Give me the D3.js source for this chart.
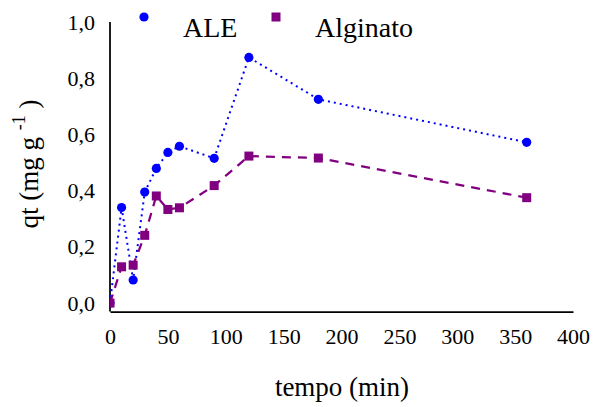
<!DOCTYPE html>
<html>
<head>
<meta charset="utf-8">
<script src="https://cdn.jsdelivr.net/npm/d3@7/dist/d3.min.js"></script>
<style>
  html, body { margin: 0; padding: 0; background: #fff; }
  svg { display: block; font-family: "Liberation Serif", "Times New Roman", serif; }
</style>
</head>
<body>
<svg id="chart" width="594" height="407"></svg>
<script>
// ---- data ----
const times = [0, 10, 20, 30, 40, 50, 60, 90, 120, 180, 360];
const aleValues = [0, 0.340, 0.082, 0.395, 0.479, 0.536, 0.558, 0.515, 0.874, 0.725, 0.572];
const alginatoValues = [0, 0.129, 0.135, 0.241, 0.381, 0.333, 0.339, 0.418, 0.523, 0.516, 0.375];
const xTicks = [0, 50, 100, 150, 200, 250, 300, 350, 400];
const yTicks = [0, 0.2, 0.4, 0.6, 0.8, 1.0];
const seriesNames = ["ALE", "Alginato"];
const xTitle = "tempo (min)";

const svg = d3.select("#chart");
const pLeft = 110, pRight = 573, pTop = 22, pBottom = 311.5;

const x = d3.scaleLinear().domain([0, 400]).range([pLeft, pRight]);
const y = d3.scaleLinear().domain([-0.03, 1]).range([pBottom, pTop]);

// clip to plot area
svg.append("defs").append("clipPath").attr("id", "plotclip")
  .append("rect").attr("x", pLeft).attr("y", 0).attr("width", 594 - pLeft).attr("height", pBottom + 10);

// axes
const fmt = d => d3.format(".1f")(d).replace(".", ",");
const yAxis = svg.append("g").attr("transform", `translate(${pLeft},0)`)
  .call(d3.axisLeft(y).tickValues(yTicks).tickFormat(fmt).tickSize(0).tickPadding(15));
const xAxis = svg.append("g").attr("transform", `translate(0,${pBottom})`)
  .call(d3.axisBottom(x).tickValues(xTicks).tickFormat(d3.format("d")).tickSize(0).tickPadding(17));
[yAxis, xAxis].forEach(g => {
  g.select(".domain").attr("stroke", "#000").attr("stroke-width", 1.75);
  g.selectAll("text").attr("font-family", "Liberation Serif").attr("font-size", 22).attr("fill", "#000");
});
yAxis.select(".domain").attr("d", `M0,${pBottom}V${pTop}`);

// series
const ale = times.map((t, i) => ({ t, v: aleValues[i] }));
const alg = times.map((t, i) => ({ t, v: alginatoValues[i] }));
const line = d3.line().x(d => x(d.t)).y(d => y(d.v));

const plot = svg.append("g").attr("clip-path", "url(#plotclip)");

plot.append("path").datum(ale).attr("d", line)
  .attr("fill", "none").attr("stroke", "#0000ff").attr("stroke-width", 2)
  .attr("stroke-dasharray", "2 4");
plot.selectAll("circle.ale").data(ale).join("circle").attr("class", "ale")
  .attr("cx", d => x(d.t)).attr("cy", d => y(d.v)).attr("r", 4.6).attr("fill", "#0000ff");

plot.append("path").datum(alg).attr("d", line)
  .attr("fill", "none").attr("stroke", "#800080").attr("stroke-width", 2.25)
  .attr("stroke-dasharray", "9 7");
const sq = 9;
plot.selectAll("rect.alg").data(alg).join("rect").attr("class", "alg")
  .attr("x", d => x(d.t) - sq / 2).attr("y", d => y(d.v) - sq / 2)
  .attr("width", sq).attr("height", sq).attr("fill", "#800080");

// legend
svg.append("circle").attr("cx", 144).attr("cy", 17).attr("r", 4.6).attr("fill", "#0000ff");
svg.append("text").attr("x", 183).attr("y", 37).attr("font-size", 28).attr("fill", "#000").text(seriesNames[0]);
svg.append("rect").attr("x", 276 - sq / 2).attr("y", 17 - sq / 2).attr("width", sq).attr("height", sq).attr("fill", "#800080");
svg.append("text").attr("x", 315).attr("y", 37).attr("font-size", 28).attr("fill", "#000").text(seriesNames[1]);

// axis titles
svg.append("text").attr("x", 342).attr("y", 396).attr("text-anchor", "middle")
  .attr("font-size", 27).attr("fill", "#000").text(xTitle);

const yt = svg.append("text").attr("transform", "translate(38,164) rotate(-90)")
  .attr("text-anchor", "middle").attr("font-size", 27).attr("fill", "#000");
yt.append("tspan").text("qt (mg g ");
yt.append("tspan").attr("font-size", 18).attr("dy", -13).text("-1");
yt.append("tspan").attr("dy", 13).text(" )");
</script>
</body>
</html>
